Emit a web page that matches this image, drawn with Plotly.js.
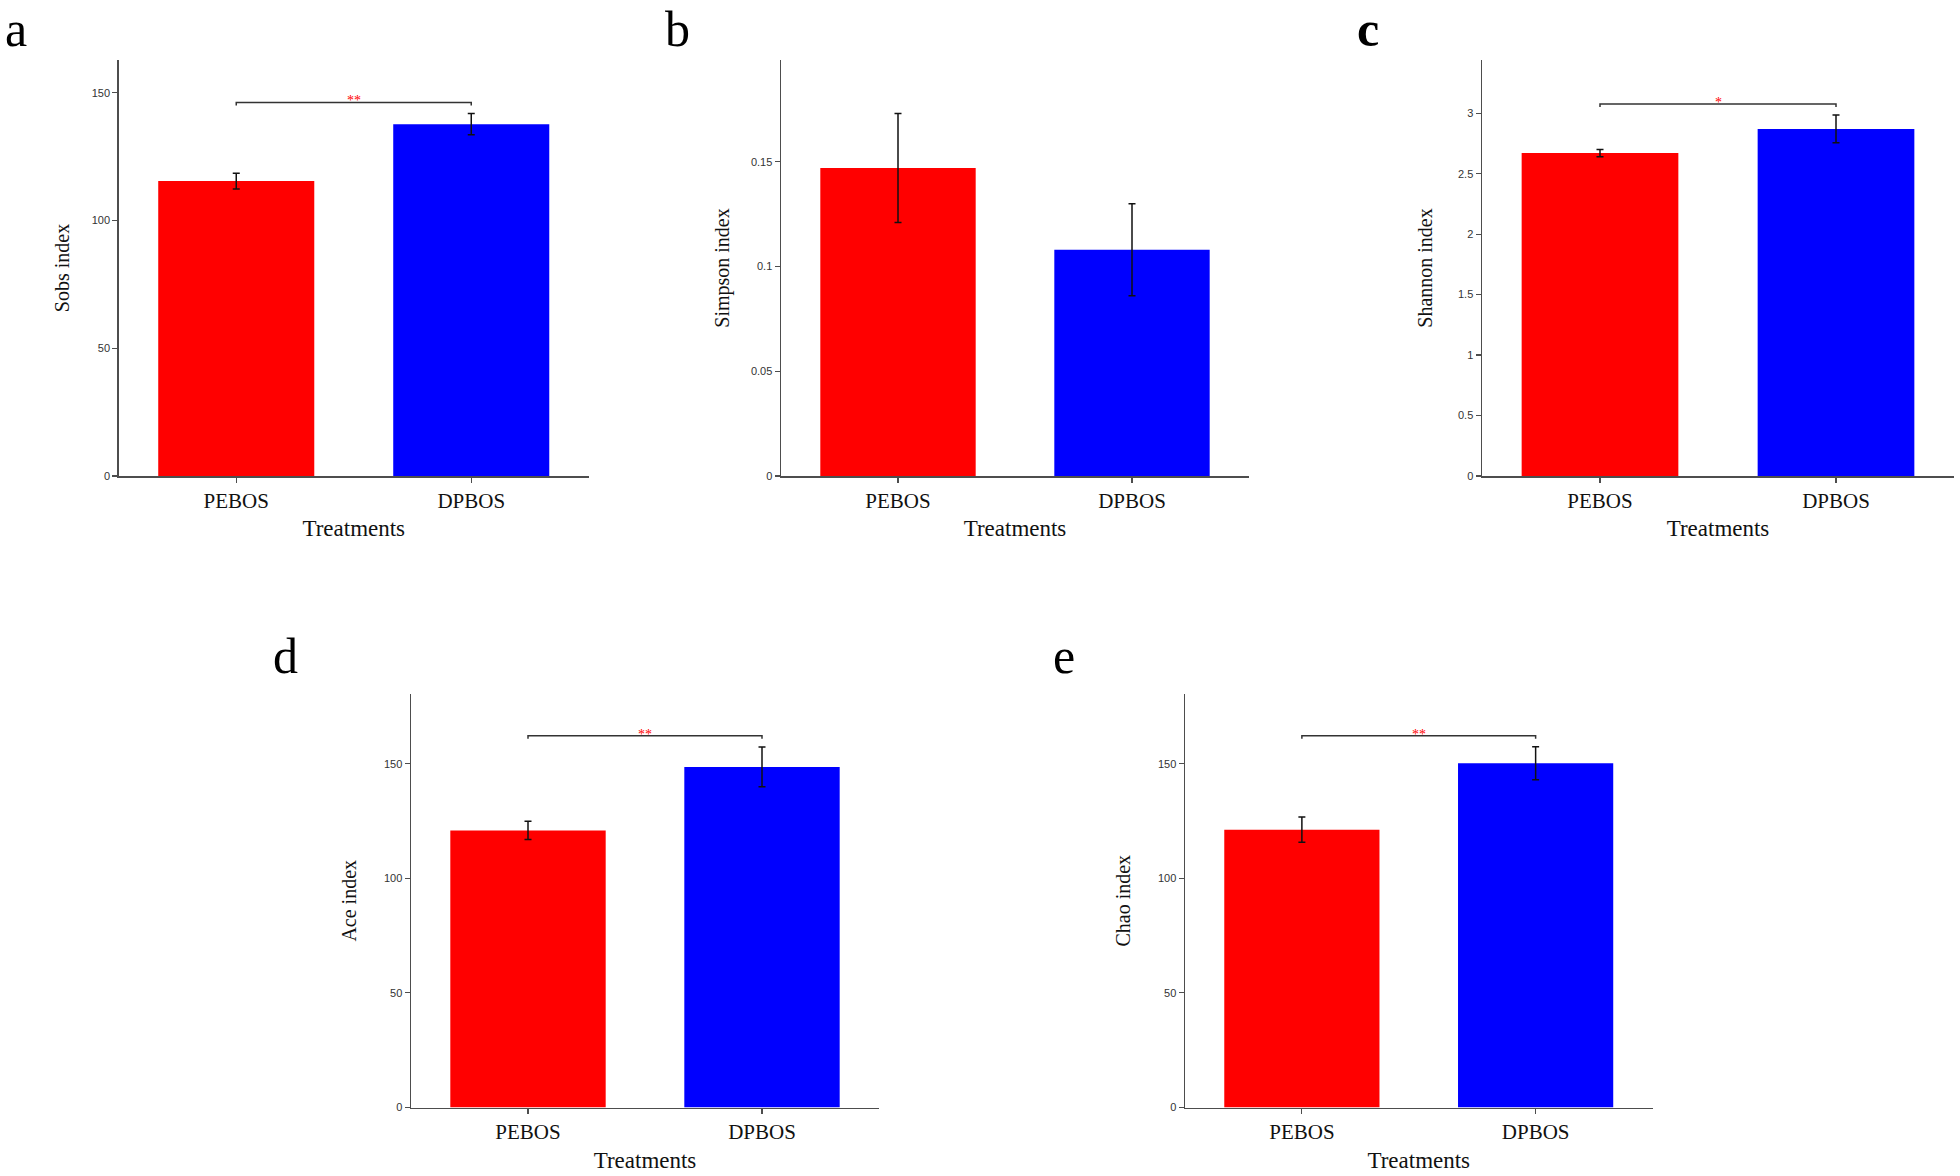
<!DOCTYPE html>
<html>
<head>
<meta charset="utf-8">
<script src="https://cdn.plot.ly/plotly-3.0.1.min.js"></script>
<style>
  html, body { margin: 0; padding: 0; background: #ffffff; }
  #chart { width: 1960px; height: 1176px; }
</style>
</head>
<body>
<div id="chart"></div>
<script>
// ---------------- data ----------------
const categories = ['PEBOS', 'DPBOS'];

const sobsMean = [115.4, 137.7];
const sobsErr  = [3.1, 4.2];

const simpsonMean = [0.147, 0.108];
const simpsonErr  = [0.026, 0.022];

const shannonMean = [2.67, 2.87];
const shannonErr  = [0.03, 0.115];

const aceMean = [120.9, 148.6];
const aceErr  = [4.0, 8.7];

const chaoMean = [121.2, 150.2];
const chaoErr  = [5.5, 7.2];

const panelLetters = ['a', 'b', 'c', 'd', 'e'];
const yTitles = ['Sobs index', 'Simpson index', 'Shannon index', 'Ace index', 'Chao index'];
const xTitle = 'Treatments';

const sobsTicks    = [0, 50, 100, 150];
const simpsonTicks = [0, 0.05, 0.1, 0.15];
const shannonTicks = [0, 0.5, 1, 1.5, 2, 2.5, 3];
const aceTicks     = [0, 50, 100, 150];
const chaoTicks    = [0, 50, 100, 150];

// significance brackets (value of bracket line, label); null = none
const sobsSig    = [146.2, '**'];
const simpsonSig = null;
const shannonSig = [3.077, '*'];
const aceSig     = [162.2, '**'];
const chaoSig    = [162.2, '**'];

const barColors = ['#ff0000', '#0000ff'];

// ---------------- layout geometry (pixels) ----------------
const W = 1960, H = 1176;
const panels = [
  { mean: sobsMean,    err: sobsErr,    ticks: sobsTicks,    sig: sobsSig,    yMax: 162.8, x0: 118.75, x1: 588.75, y0: 60,  y1: 476,   letterX: 4,    letterTop: 0,   bold: false, standoff: 16 },
  { mean: simpsonMean, err: simpsonErr, ticks: simpsonTicks, sig: simpsonSig, yMax: 0.1986, x0: 781,   x1: 1249,   y0: 60,  y1: 476,   letterX: 664,  letterTop: 0,   bold: false, standoff: 16 },
  { mean: shannonMean, err: shannonErr, ticks: shannonTicks, sig: shannonSig, yMax: 3.44,  x0: 1482,   x1: 1954,   y0: 60,  y1: 476,   letterX: 1356, letterTop: 0,   bold: true,  standoff: 20 },
  { mean: aceMean,     err: aceErr,     ticks: aceTicks,     sig: aceSig,     yMax: 180.4, x0: 411,    x1: 879,    y0: 694, y1: 1107.5, letterX: 272,  letterTop: 627, bold: false, standoff: 22 },
  { mean: chaoMean,    err: chaoErr,    ticks: chaoTicks,    sig: chaoSig,    yMax: 180.4, x0: 1185,   x1: 1652.5, y0: 694, y1: 1107.5, letterX: 1052, letterTop: 627, bold: false, standoff: 22 }
];

const axisColor = '#4d4d4d';
const traces = [];
const annotations = [];
const layout = {
  width: W, height: H,
  margin: { l: 0, r: 0, t: 0, b: 0 },
  paper_bgcolor: '#ffffff',
  plot_bgcolor: '#ffffff',
  showlegend: false,
  annotations: annotations
};

panels.forEach((p, i) => {
  const n = i + 1;
  const xa = 'xaxis' + (n === 1 ? '' : n);
  const ya = 'yaxis' + (n === 1 ? '' : n);
  const xr = 'x' + (n === 1 ? '' : n);
  const yr = 'y' + (n === 1 ? '' : n);

  layout[xa] = {
    domain: [p.x0 / W, p.x1 / W],
    anchor: yr,
    type: 'category',
    range: [-0.5, 1.5],
    showline: true, linecolor: axisColor, linewidth: 1.5,
    ticks: 'outside', ticklen: 5, tickwidth: 1.2, tickcolor: axisColor,
    showgrid: false, zeroline: false,
    tickfont: { family: 'Liberation Serif, Times New Roman, serif', size: 21, color: '#111111' },
    title: { text: xTitle, standoff: 8, font: { family: 'Liberation Serif, Times New Roman, serif', size: 23, color: '#111111' } },
    fixedrange: true
  };
  layout[ya] = {
    domain: [1 - p.y1 / H, 1 - p.y0 / H],
    anchor: xr,
    range: [0, p.yMax],
    showline: true, linecolor: axisColor, linewidth: 1.5,
    ticks: 'outside', ticklen: 5, tickwidth: 1.2, tickcolor: axisColor,
    showgrid: false, zeroline: false,
    tickmode: 'array', tickvals: p.ticks, ticktext: p.ticks.map(String),
    tickfont: { family: 'Liberation Sans, Arial, sans-serif', size: 11, color: '#333333' },
    title: { text: yTitles[i], standoff: p.standoff, font: { family: 'Liberation Serif, Times New Roman, serif', size: 20, color: '#111111' } },
    fixedrange: true
  };

  traces.push({
    type: 'bar',
    x: categories,
    y: p.mean,
    xaxis: xr, yaxis: yr,
    width: 0.664,
    marker: { color: barColors, line: { width: 0 } },
    error_y: { type: 'data', array: p.err, visible: true, color: '#111111', thickness: 1.5, width: 3.5 },
    hoverinfo: 'x+y'
  });

  if (p.sig) {
    const b = p.sig[0];
    const drop = p.yMax * 0.0075;
    traces.push({
      type: 'scatter', mode: 'lines',
      x: [categories[0], categories[0], categories[1], categories[1]],
      y: [b - drop, b, b, b - drop],
      xaxis: xr, yaxis: yr,
      line: { color: '#333333', width: 1.5 },
      hoverinfo: 'skip'
    });
    annotations.push({
      xref: xr, yref: yr, x: 0.5, y: b,
      text: p.sig[1], showarrow: false,
      yanchor: 'bottom', yshift: -8,
      font: { family: 'Liberation Serif, Times New Roman, serif', size: 14, color: '#ff0000' }
    });
  }

  annotations.push({
    xref: 'paper', yref: 'paper',
    x: p.letterX / W, y: 1 - p.letterTop / H,
    xanchor: 'left', yanchor: 'top', borderpad: 0,
    text: p.bold ? '<b>' + panelLetters[i] + '</b>' : panelLetters[i],
    showarrow: false,
    font: { family: 'Liberation Serif, Times New Roman, serif', size: 50, color: '#000000' }
  });
});

Plotly.newPlot('chart', traces, layout, { displayModeBar: false, staticPlot: true });
</script>
</body>
</html>
